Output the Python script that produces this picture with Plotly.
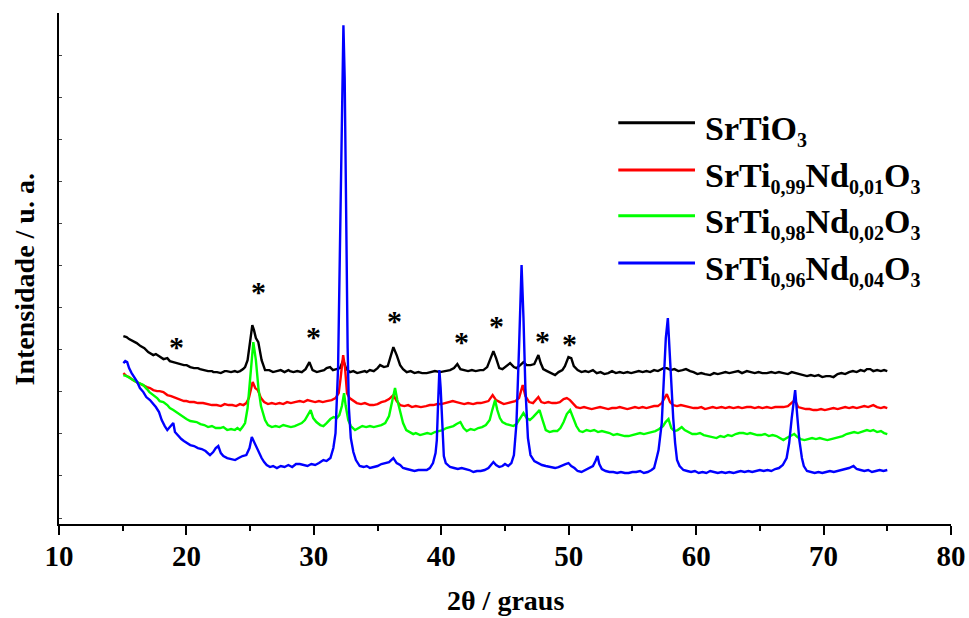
import plotly.graph_objects as go

# XRD patterns, 2-theta (degrees) vs intensity (a.u.)
srtio3 = [
    (15.05, 182), (15.3, 181), (15.5, 179), (15.8, 177), (16.1, 175), (16.4, 172), (16.7, 170),
    (17.0, 166), (17.14, 165), (17.4, 163), (17.6, 164), (17.93, 161), (18.2, 159), (18.5, 160),
    (18.7, 157), (18.97, 156), (19.2, 155), (19.5, 154), (19.8, 153), (20.02, 153), (20.3, 151),
    (20.6, 150), (20.9, 150), (21.07, 149), (21.4, 148), (21.7, 147), (22.0, 147), (22.11, 146),
    (22.4, 146), (22.7, 145), (23.0, 147), (23.16, 147), (23.5, 146), (23.8, 147), (24.0, 146),
    (24.21, 147), (24.45, 149), (24.6, 151), (24.8, 158), (25.0, 178), (25.17, 193), (25.3, 188),
    (25.45, 180), (25.64, 176), (25.9, 158), (26.17, 148), (26.5, 148), (26.8, 146), (27.09, 147),
    (27.4, 148), (27.7, 146), (28.0, 148), (28.13, 147), (28.4, 146), (28.7, 147), (29.05, 146),
    (29.35, 149), (29.65, 156), (29.9, 148), (30.23, 146), (30.5, 147), (30.8, 148), (31.0, 150),
    (31.27, 151), (31.5, 148), (31.8, 149), (32.05, 150), (32.3, 158), (32.55, 149), (32.84, 146),
    (33.1, 147), (33.4, 145), (33.7, 146), (34.0, 147), (34.15, 146), (34.4, 148), (34.7, 147),
    (35.0, 150), (35.2, 153), (35.5, 151), (35.8, 152), (36.0, 160), (36.24, 171), (36.5, 163),
    (36.77, 153), (37.0, 149), (37.29, 146), (37.6, 147), (37.9, 145), (38.2, 146), (38.5, 145),
    (38.86, 145), (39.2, 146), (39.5, 147), (39.9, 146), (40.2, 147), (40.5, 148), (40.69, 148),
    (41.0, 150), (41.26, 154), (41.5, 149), (41.8, 148), (42.1, 147), (42.4, 148), (42.7, 147),
    (43.05, 148), (43.3, 148), (43.6, 151), (43.8, 158), (44.09, 167), (44.3, 160), (44.55, 150),
    (44.8, 149), (45.1, 152), (45.4, 155), (45.7, 151), (45.9, 150), (46.2, 153), (46.45, 156),
    (46.7, 153), (47.0, 153), (47.3, 154), (47.62, 163), (47.8, 155), (48.0, 149), (48.3, 147),
    (48.6, 145), (48.93, 143), (49.2, 146), (49.5, 148), (49.7, 152), (49.98, 161), (50.2, 160),
    (50.4, 152), (50.7, 148), (51.0, 146), (51.3, 147), (51.55, 146), (51.9, 148), (52.2, 145),
    (52.5, 146), (52.8, 144), (53.1, 145), (53.4, 147), (53.7, 145), (54.0, 146), (54.3, 145),
    (54.6, 146), (54.9, 145), (55.2, 146), (55.5, 147), (55.8, 146), (56.1, 147), (56.4, 146),
    (56.7, 148), (57.0, 147), (57.43, 150), (57.7, 150), (58.0, 148), (58.3, 149), (58.6, 147),
    (58.93, 148), (59.2, 149), (59.53, 147), (59.8, 146), (60.1, 144), (60.4, 145), (60.7, 144),
    (61.1, 143), (61.4, 145), (61.7, 144), (62.0, 145), (62.3, 146), (62.6, 145), (62.9, 146),
    (63.3, 147), (63.6, 145), (63.98, 147), (64.3, 146), (64.6, 145), (64.9, 146), (65.2, 145),
    (65.55, 145), (65.9, 146), (66.2, 145), (66.5, 146), (66.85, 145), (67.2, 144), (67.5, 146),
    (67.8, 145), (68.1, 144), (68.4, 143), (68.7, 142), (69.0, 143), (69.3, 142), (69.6, 143),
    (69.9, 141), (70.2, 142), (70.5, 142), (70.78, 141), (71.1, 144), (71.4, 145), (71.7, 144),
    (72.0, 146), (72.3, 147), (72.6, 146), (72.9, 148), (73.2, 147), (73.4, 149), (73.66, 149),
    (73.9, 147), (74.2, 148), (74.5, 147), (74.75, 148), (75.0, 147),
]

nd_001 = [
    (15.05, 145), (15.3, 142), (15.5, 141), (15.8, 138), (16.1, 136), (16.4, 134), (16.62, 133),
    (16.9, 131), (17.14, 130), (17.4, 128), (17.7, 127), (17.9, 127), (18.19, 126), (18.5, 123),
    (18.8, 122), (19.0, 121), (19.24, 120), (19.5, 118), (19.8, 117), (20.0, 117), (20.28, 116),
    (20.6, 116), (20.9, 115), (21.3, 115), (21.6, 114), (22.0, 113), (22.38, 113), (22.7, 112),
    (23.0, 114), (23.3, 113), (23.6, 113), (23.9, 112), (24.2, 114), (24.47, 113), (24.7, 115),
    (24.9, 120), (25.2, 136), (25.4, 130), (25.6, 128), (25.85, 120), (26.1, 116), (26.4, 114),
    (26.7, 115), (27.0, 114), (27.3, 115), (27.6, 114), (27.9, 116), (28.2, 115), (28.5, 116),
    (28.9, 117), (29.2, 116), (29.5, 118), (29.8, 117), (30.1, 116), (30.4, 117), (30.7, 116),
    (31.0, 117), (31.4, 118), (31.7, 120), (31.95, 125), (32.1, 140), (32.3, 163), (32.45, 150),
    (32.6, 125), (32.8, 120), (33.1, 117), (33.37, 115), (33.7, 114), (34.0, 115), (34.4, 113),
    (34.67, 113), (35.0, 114), (35.3, 116), (35.6, 117), (35.9, 119), (36.24, 123), (36.5, 117),
    (36.77, 113), (37.1, 112), (37.4, 113), (37.7, 111), (38.0, 112), (38.4, 111), (38.8, 112),
    (39.1, 113), (39.38, 113), (39.7, 114), (40.0, 114), (40.3, 115), (40.6, 116), (40.9, 117),
    (41.2, 116), (41.5, 115), (41.8, 114), (42.1, 115), (42.5, 114), (42.8, 115), (43.1, 115),
    (43.4, 116), (43.7, 117), (44.03, 123), (44.3, 118), (44.6, 116), (44.9, 114), (45.2, 115),
    (45.5, 116), (45.8, 117), (46.1, 120), (46.39, 133), (46.6, 122), (46.9, 116), (47.2, 115),
    (47.4, 118), (47.62, 121), (47.85, 116), (48.1, 115), (48.4, 116), (48.7, 115), (49.0, 115),
    (49.3, 116), (49.6, 119), (49.85, 120), (50.1, 118), (50.35, 114), (50.6, 111), (50.9, 110),
    (51.2, 111), (51.5, 110), (51.8, 109), (52.1, 110), (52.46, 111), (52.8, 110), (53.1, 109),
    (53.4, 110), (53.7, 110), (54.0, 111), (54.3, 110), (54.6, 109), (54.9, 110), (55.2, 111),
    (55.5, 110), (55.8, 111), (56.1, 110), (56.4, 111), (56.7, 112), (57.0, 112), (57.3, 115),
    (57.7, 124), (57.95, 116), (58.2, 113), (58.5, 112), (58.8, 113), (59.1, 112), (59.5, 111),
    (59.8, 110), (60.1, 110), (60.4, 111), (60.7, 109), (61.0, 110), (61.3, 111), (61.6, 110),
    (62.0, 111), (62.3, 110), (62.6, 111), (62.93, 110), (63.3, 111), (63.6, 110), (63.98, 111),
    (64.3, 111), (64.6, 110), (64.9, 111), (65.2, 110), (65.55, 111), (65.9, 110), (66.2, 111),
    (66.5, 111), (66.85, 111), (67.2, 112), (67.5, 115), (67.75, 118), (68.0, 111), (68.3, 110),
    (68.6, 109), (68.9, 109), (69.2, 108), (69.47, 108), (69.8, 109), (70.1, 108), (70.4, 109),
    (70.78, 110), (71.1, 109), (71.4, 110), (71.7, 111), (72.0, 110), (72.3, 111), (72.6, 110),
    (72.9, 111), (73.2, 112), (73.5, 111), (73.9, 113), (74.2, 111), (74.5, 110), (74.75, 111),
    (75.0, 110),
]

nd_002 = [
    (15.05, 143), (15.3, 142), (15.55, 140), (15.8, 138), (16.1, 136), (16.3, 135), (16.62, 133),
    (16.9, 129), (17.1, 126), (17.4, 123), (17.7, 120), (17.9, 117), (18.19, 116), (18.5, 113),
    (18.7, 110), (18.97, 108), (19.2, 106), (19.5, 103), (19.7, 101), (20.0, 99), (20.3, 97),
    (20.6, 96), (20.8, 96), (21.1, 94), (21.4, 93), (21.7, 91), (22.0, 92), (22.3, 90),
    (22.64, 90), (22.9, 91), (23.2, 88), (23.5, 89), (23.8, 88), (24.0, 90), (24.21, 88),
    (24.4, 91), (24.6, 95), (24.8, 110), (25.0, 140), (25.25, 176), (25.45, 158), (25.65, 130),
    (25.85, 112), (26.17, 98), (26.4, 93), (26.7, 91), (27.0, 92), (27.3, 91), (27.6, 93),
    (27.9, 92), (28.2, 91), (28.5, 92), (28.8, 94), (29.05, 95), (29.3, 98), (29.57, 104),
    (29.75, 108), (29.95, 100), (30.2, 96), (30.5, 93), (30.75, 92), (31.0, 95), (31.3, 99),
    (31.55, 101), (31.8, 100), (32.0, 103), (32.2, 112), (32.37, 125), (32.5, 112), (32.7, 98),
    (32.9, 92), (33.23, 88), (33.5, 90), (33.8, 92), (34.1, 91), (34.4, 92), (34.7, 91),
    (35.0, 92), (35.3, 93), (35.6, 95), (35.9, 102), (36.15, 117), (36.37, 130), (36.55, 118),
    (36.77, 108), (37.0, 95), (37.25, 88), (37.5, 86), (37.8, 84), (38.0, 85), (38.34, 83),
    (38.6, 84), (38.9, 85), (39.2, 84), (39.5, 86), (39.8, 87), (40.1, 88), (40.4, 90),
    (40.7, 91), (40.95, 92), (41.2, 94), (41.5, 96), (41.75, 90), (42.0, 87), (42.3, 89),
    (42.6, 88), (42.9, 90), (43.2, 91), (43.5, 93), (43.8, 98), (44.0, 108), (44.22, 118),
    (44.4, 108), (44.6, 100), (44.8, 96), (45.1, 94), (45.4, 93), (45.66, 92), (45.9, 94),
    (46.2, 100), (46.45, 105), (46.7, 100), (46.95, 98), (47.2, 101), (47.45, 104), (47.71, 108),
    (47.95, 98), (48.2, 88), (48.5, 86), (48.8, 87), (49.1, 87), (49.35, 90), (49.6, 96),
    (49.85, 104), (50.11, 108), (50.35, 100), (50.6, 92), (50.85, 87), (51.1, 86), (51.4, 88),
    (51.7, 87), (52.0, 88), (52.3, 86), (52.6, 87), (52.9, 86), (53.2, 85), (53.5, 83),
    (53.8, 84), (54.1, 83), (54.4, 82), (54.7, 82), (55.0, 83), (55.3, 84), (55.6, 85),
    (55.9, 84), (56.2, 85), (56.5, 86), (56.8, 87), (57.1, 89), (57.4, 92), (57.6, 96),
    (57.83, 99), (58.05, 90), (58.3, 87), (58.55, 88), (58.87, 91), (59.1, 88), (59.4, 86),
    (59.7, 84), (60.0, 84), (60.3, 85), (60.6, 83), (60.9, 82), (61.2, 81), (61.6, 80),
    (61.9, 82), (62.2, 81), (62.5, 83), (62.8, 82), (63.1, 84), (63.4, 85), (63.7, 85),
    (64.0, 84), (64.24, 85), (64.5, 84), (64.8, 83), (65.1, 83), (65.4, 84), (65.7, 82),
    (66.0, 83), (66.3, 82), (66.6, 80), (66.85, 78), (67.1, 80), (67.4, 82), (67.7, 84),
    (67.95, 81), (68.2, 79), (68.5, 78), (68.8, 79), (69.1, 80), (69.4, 79), (69.7, 80),
    (70.0, 79), (70.3, 78), (70.6, 79), (70.9, 80), (71.2, 81), (71.5, 82), (71.8, 84),
    (72.1, 85), (72.4, 86), (72.7, 85), (73.0, 86), (73.4, 88), (73.66, 87), (73.9, 88),
    (74.2, 86), (74.5, 87), (74.75, 85), (75.0, 84),
]

nd_004 = [
    (15.05, 155), (15.2, 157), (15.35, 156), (15.5, 150), (15.7, 145), (15.9, 141), (16.1, 137),
    (16.35, 130), (16.62, 126), (16.85, 121), (17.14, 118), (17.4, 114), (17.6, 111), (17.85, 106),
    (18.06, 98), (18.3, 92), (18.5, 88), (18.7, 91), (18.97, 95), (19.1, 86), (19.3, 83),
    (19.6, 79), (19.8, 77), (20.02, 75), (20.3, 73), (20.6, 72), (20.9, 70), (21.2, 69),
    (21.5, 67), (21.85, 63), (22.1, 66), (22.3, 70), (22.5, 72), (22.7, 65), (22.9, 62),
    (23.2, 60), (23.5, 59), (23.82, 58), (24.1, 60), (24.4, 62), (24.7, 63), (24.95, 70),
    (25.13, 81), (25.3, 76), (25.5, 72), (25.7, 66), (25.9, 60), (26.1, 56), (26.3, 53),
    (26.56, 51), (26.8, 52), (27.1, 50), (27.4, 52), (27.7, 51), (28.0, 53), (28.3, 51),
    (28.6, 54), (28.9, 54), (29.2, 53), (29.5, 52), (29.8, 54), (30.1, 53), (30.4, 55),
    (30.75, 58), (31.0, 57), (31.3, 60), (31.53, 70), (31.7, 85), (31.9, 150), (32.06, 270),
    (32.2, 400), (32.32, 493), (32.42, 440), (32.53, 280), (32.65, 170), (32.75, 110), (32.9, 80),
    (33.1, 66), (33.3, 58), (33.6, 52), (33.9, 51), (34.15, 52), (34.4, 50), (34.7, 51),
    (35.0, 52), (35.3, 54), (35.6, 55), (35.9, 56), (36.24, 60), (36.5, 55), (36.77, 53),
    (37.0, 50), (37.3, 49), (37.6, 48), (37.9, 47), (38.2, 48), (38.5, 48), (38.86, 48),
    (39.1, 50), (39.35, 55), (39.55, 65), (39.65, 78), (39.75, 115), (39.85, 148), (39.95, 130),
    (40.05, 108), (40.2, 62), (40.35, 55), (40.5, 53), (40.69, 51), (41.0, 50), (41.3, 49),
    (41.6, 50), (41.9, 49), (42.2, 48), (42.52, 46), (42.8, 47), (43.1, 47), (43.4, 48),
    (43.7, 50), (44.09, 56), (44.3, 53), (44.55, 51), (44.8, 52), (45.0, 54), (45.25, 52),
    (45.5, 55), (45.7, 63), (45.9, 95), (46.1, 170), (46.3, 253), (46.45, 200), (46.6, 130),
    (46.8, 80), (47.0, 63), (47.3, 57), (47.62, 55), (47.9, 53), (48.2, 52), (48.5, 51),
    (48.93, 50), (49.2, 51), (49.5, 53), (49.75, 54), (49.98, 55), (50.2, 52), (50.45, 50),
    (50.7, 47), (51.0, 46), (51.3, 48), (51.6, 50), (51.9, 52), (52.1, 57), (52.26, 62),
    (52.4, 54), (52.6, 49), (52.9, 47), (53.2, 46), (53.5, 46), (53.8, 45), (54.1, 46),
    (54.4, 45), (54.7, 45), (55.0, 46), (55.3, 46), (55.6, 47), (55.9, 45), (56.2, 46),
    (56.5, 48), (56.7, 50), (56.9, 60), (57.05, 68), (57.3, 95), (57.45, 130), (57.62, 180),
    (57.78, 200), (57.9, 170), (58.05, 130), (58.2, 100), (58.35, 75), (58.5, 58), (58.7, 52),
    (59.0, 48), (59.3, 47), (59.6, 46), (59.9, 47), (60.2, 45), (60.5, 46), (60.8, 45),
    (61.1, 47), (61.4, 46), (61.7, 45), (62.0, 46), (62.3, 45), (62.6, 46), (62.93, 45),
    (63.2, 46), (63.5, 47), (63.8, 46), (64.1, 47), (64.4, 46), (64.7, 47), (65.0, 48),
    (65.3, 47), (65.6, 48), (65.9, 47), (66.2, 49), (66.5, 50), (66.8, 53), (67.1, 60),
    (67.3, 75), (67.5, 100), (67.77, 128), (67.95, 100), (68.1, 78), (68.3, 60), (68.45, 52),
    (68.7, 47), (69.0, 46), (69.3, 45), (69.6, 46), (69.9, 45), (70.2, 46), (70.5, 47),
    (70.8, 46), (71.1, 47), (71.4, 48), (71.7, 49), (72.0, 50), (72.35, 52), (72.6, 49),
    (72.9, 48), (73.2, 47), (73.5, 48), (73.8, 46), (74.1, 47), (74.4, 48), (74.7, 47),
    (75.0, 48),
]

series_names = [
    "SrTiO<sub>3</sub>",
    "SrTi<sub>0,99</sub>Nd<sub>0,01</sub>O<sub>3</sub>",
    "SrTi<sub>0,98</sub>Nd<sub>0,02</sub>O<sub>3</sub>",
    "SrTi<sub>0,96</sub>Nd<sub>0,04</sub>O<sub>3</sub>",
]
series_data = [srtio3, nd_001, nd_002, nd_004]
series_colors = ["#000000", "#ff0000", "#00ff00", "#0000ff"]

# secondary-phase reflections marked with an asterisk (2-theta, height)
star_2theta = [19.24, 25.62, 29.96, 36.32, 41.55, 44.36, 47.94, 50.03]
star_height = [174, 229, 184, 200, 179, 195, 180, 177]

x_ticks = [10, 20, 30, 40, 50, 60, 70, 80]

SERIF = "Liberation Serif, Times New Roman, serif"

fig = go.Figure()
for name, data, color in zip(series_names, series_data, series_colors):
    xs, ys = zip(*data)
    fig.add_trace(go.Scatter(
        x=list(xs), y=list(ys), mode="lines", name=name,
        line=dict(color=color, width=2.4), showlegend=False,
    ))

# asterisks above the secondary-phase peaks
for sx, sy in zip(star_2theta, star_height):
    fig.add_annotation(
        x=sx, y=sy, xref="x", yref="y", text="*", showarrow=False,
        xanchor="center", yanchor="middle", yshift=-2,
        font=dict(family=SERIF, size=30, color="black", weight="bold"),
    )

# hand-built legend: long line samples followed by formula labels
leg_y = [0.785, 0.693, 0.603, 0.511]
for ly, name, color in zip(leg_y, series_names, series_colors):
    fig.add_shape(
        type="line", xref="paper", yref="paper",
        x0=0.627, x1=0.713, y0=ly, y1=ly,
        line=dict(color=color, width=3),
    )
    label = name.replace("<sub>", "<sub><span style='font-size:20px'>").replace("</sub>", "</span></sub>")
    fig.add_annotation(
        x=0.722, y=ly, xref="paper", yref="paper", text=label, showarrow=False,
        xanchor="left", yanchor="middle", yshift=-8,
        font=dict(family=SERIF, size=34, color="black", weight="bold"),
    )

# axis titles
fig.add_annotation(
    x=0.5, y=-0.149, xref="paper", yref="paper", text="2θ / graus", showarrow=False,
    xanchor="center", yanchor="middle",
    font=dict(family=SERIF, size=28, color="black", weight="bold"),
)
fig.add_annotation(
    x=-0.0387, y=0.4795, xref="paper", yref="paper", text="Intensidade / u. a.",
    showarrow=False, textangle=-90, xanchor="center", yanchor="middle",
    font=dict(family=SERIF, size=28, color="black", weight="bold"),
)

fig.update_layout(
    width=969, height=618,
    margin=dict(l=59, r=18, t=13, b=94, autoexpand=False),
    paper_bgcolor="white", plot_bgcolor="white",
    xaxis=dict(
        range=[10, 80], tickvals=x_ticks, ticktext=[str(v) for v in x_ticks],
        automargin=False,
        showline=True, linecolor="black", linewidth=2,
        ticks="outside", ticklen=9, tickwidth=1.5, tickcolor="black",
        minor=dict(dtick=5, tick0=10, ticks="outside", ticklen=5, tickwidth=1.5, tickcolor="black"),
        showgrid=False, zeroline=False, ticklabelstandoff=-4,
        tickfont=dict(family=SERIF, size=29, color="black", weight="bold"),
    ),
    yaxis=dict(
        range=[-6, 505.3], tick0=0, dtick=42.1, automargin=False,
        showline=True, linecolor="black", linewidth=2,
        ticks="inside", ticklen=3, tickwidth=1, tickcolor="#444444",
        showticklabels=False, showgrid=False, zeroline=False,
    ),
)

fig.write_html("out.html")
